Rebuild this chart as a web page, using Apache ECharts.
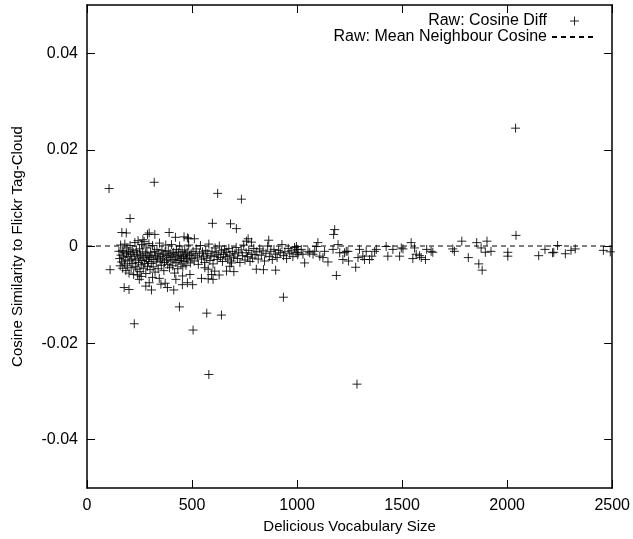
<!DOCTYPE html>
<html>
<head>
<meta charset="utf-8">
<script src="https://cdn.jsdelivr.net/npm/echarts@6/dist/echarts.min.js"></script>
<style>
html,body{margin:0;padding:0;background:#fff;}
#chart{width:633px;height:539px;}
</style>
</head>
<body>
<div id="chart"></div>
<script>
// ---- data ----
const seriesNames = ['Raw: Cosine Diff', 'Raw: Mean Neighbour Cosine'];
const xTicks = [0, 500, 1000, 1500, 2000, 2500];
const yTicks = [-0.04, -0.02, 0, 0.02, 0.04];

// outliers
const cosineDiffOutliers = [
[105,0.0120],[110,-0.0048],[320,0.0133],[205,0.0058],[622,0.0110],[735,0.0098],[597,0.0048],[683,0.0047],
[711,0.0037],[166,0.0029],[177,-0.0085],[225,-0.0160],[440,-0.0125],[505,-0.0173],[570,-0.0138],[640,-0.0142],
[580,-0.0265],[935,-0.0105],[1285,-0.0285],[2040,0.0245],[2042,0.0023],[1179,0.0035],[1174,0.0025],[1187,-0.0060]
];
// near-band points above/below the main cluster
const cosineDiffFringe = [
[296,0.0028],[288,0.0025],[391,0.0029],[462,0.0020],[478,0.0018],[421,0.0019],[483,0.0016],[511,0.0016],
[187,0.0028],[323,0.0025],[266,0.0014],
[249,-0.0068],[280,-0.0082],[296,-0.0075],[312,-0.0064],[352,-0.0078],[383,-0.0085],[423,-0.0068],[455,-0.0061],
[478,-0.0075],[545,-0.0066],[600,-0.0068],[561,-0.0044],[577,-0.0047],[593,-0.0058],[608,-0.0051],[490,-0.0058],
[664,-0.0051],[680,-0.0041],[688,-0.0034],[806,-0.0047],[898,-0.0049],[767,0.0016],[783,0.0009],[759,0.0011],
[865,0.0013],[200,-0.0089],[307,-0.0090],[413,-0.0090],[454,-0.0079],[503,-0.0079],[577,-0.0067],[629,-0.0059],
[699,-0.0052],[840,-0.0048],[241,-0.0059],[258,-0.0062],[344,-0.0066],[372,-0.0076]
];
// dense cluster, x 150..500
const cosineDiffDenseA = [
[152,-0.0010],[155,-0.0025],[158,-0.0040],[160,0.0003],[162,-0.0018],[165,-0.0032],[168,-0.0008],[170,-0.0045],
[172,-0.0022],[175,-0.0012],[178,-0.0036],[180,0.0005],[182,-0.0028],[185,-0.0050],[188,-0.0015],[190,-0.0003],
[192,-0.0040],[195,-0.0021],[198,-0.0010],[200,-0.0055],[203,-0.0030],[205,0.0002],[208,-0.0017],[210,-0.0044],
[213,-0.0026],[215,-0.0007],[218,-0.0035],[220,-0.0012],[222,-0.0058],[225,-0.0020],[228,0.0008],[230,-0.0042],
[232,-0.0028],[235,-0.0009],[238,-0.0047],[240,-0.0016],[243,0.0012],[245,-0.0033],[248,-0.0024],[250,-0.0005],
[252,-0.0052],[255,-0.0019],[258,-0.0038],[260,0.0004],[262,-0.0029],[265,-0.0011],[268,-0.0045],[270,-0.0022],
[272,0.0010],[275,-0.0035],[278,-0.0014],[280,-0.0056],[283,-0.0026],[285,-0.0003],[288,-0.0041],[290,-0.0018],
[293,-0.0031],[295,0.0006],[298,-0.0023],[300,-0.0048],
[303,-0.0012],[306,-0.0035],[309,-0.0020],[312,0.0002],[315,-0.0042],[318,-0.0027],[321,-0.0010],[324,-0.0053],
[327,-0.0018],[330,-0.0032],[333,-0.0006],[336,-0.0024],[339,-0.0046],[342,-0.0014],[345,0.0007],[348,-0.0030],
[351,-0.0021],[354,-0.0039],[357,-0.0008],[360,-0.0026],[363,-0.0016],[366,-0.0050],[369,-0.0033],[372,-0.0011],
[375,0.0003],[378,-0.0028],[381,-0.0019],[384,-0.0037],[387,-0.0009],[390,-0.0023],[393,-0.0044],[396,-0.0015],
[399,-0.0030],[402,0.0004],[405,-0.0020],[408,-0.0040],[411,-0.0012],[414,-0.0027],[417,-0.0055],[420,-0.0017],
[423,-0.0033],[426,-0.0006],[429,-0.0022],[432,-0.0046],[435,-0.0013],[438,-0.0029],[441,0.0001],[444,-0.0019],
[447,-0.0036],[450,-0.0025],[453,-0.0010],[456,-0.0042],[459,-0.0021],[462,-0.0031],[465,-0.0007],[468,-0.0016],
[471,-0.0039],[474,-0.0024],[477,-0.0012],[480,-0.0028],[484,0.0003],[488,-0.0019],[492,-0.0034],[496,-0.0015],
[500,-0.0025]
];
// cluster, x 500..1000
const cosineDiffDenseB = [
[505,-0.0010],[510,-0.0030],[515,-0.0018],[520,-0.0005],[525,-0.0022],[530,-0.0037],[535,-0.0014],[540,0.0002],
[545,-0.0026],[550,-0.0011],[555,-0.0020],[560,-0.0033],[565,-0.0008],[570,-0.0024],[575,-0.0015],[580,0.0005],
[585,-0.0029],[590,-0.0019],[595,-0.0010],[600,-0.0036],[605,-0.0021],[610,-0.0003],[615,-0.0013],[620,-0.0027],
[625,-0.0017],[630,0.0001],[635,-0.0023],[640,-0.0009],[645,-0.0031],[650,-0.0016],[655,-0.0006],[660,-0.0021],
[665,-0.0012],[670,-0.0026],[675,-0.0004],[680,-0.0018],[686,-0.0030],[692,-0.0010],[698,-0.0022],[704,-0.0015],
[710,-0.0002],[716,-0.0025],[722,-0.0012],[728,-0.0033],[734,-0.0007],[740,-0.0019],[746,0.0003],[752,-0.0028],
[758,-0.0013],[764,-0.0021],[770,-0.0008],[776,-0.0031],[782,-0.0016],[788,-0.0024],[794,-0.0004],[800,-0.0017],
[808,-0.0011],[815,-0.0026],[822,-0.0005],[830,-0.0018],[838,-0.0009],[845,-0.0030],[852,-0.0014],[860,0.0001],
[868,-0.0021],[875,-0.0010],[882,-0.0027],[890,-0.0006],[897,-0.0016],[905,-0.0023],[912,-0.0008],[920,-0.0013],
[928,0.0004],[935,-0.0019],[942,-0.0011],[950,-0.0025],[958,-0.0004],[965,-0.0015],[972,-0.0009],[980,-0.0021],
[988,-0.0002],[995,-0.0012]
];
// sparse tail, x 1000..2500
const cosineDiffTail = [
[997,0.0000],[1000,-0.0006],[1005,-0.0013],[1003,-0.0017],[1020,-0.0006],[1028,-0.0016],[1036,-0.0034],[1052,-0.0010],
[1060,-0.0013],[1076,-0.0016],[1084,-0.0010],[1099,0.0008],[1092,0.0000],[1108,-0.0020],[1123,-0.0023],[1131,-0.0010],
[1147,-0.0032],[1171,-0.0006],[1195,0.0004],[1203,-0.0013],[1218,-0.0027],[1226,-0.0013],[1234,-0.0010],[1242,-0.0010],
[1245,-0.0030],[1279,-0.0043],[1290,-0.0023],[1297,-0.0006],[1313,-0.0020],[1321,-0.0027],[1329,-0.0010],[1345,-0.0027],
[1356,-0.0020],[1369,-0.0010],[1377,-0.0006],[1424,0.0000],[1432,-0.0020],[1456,-0.0006],[1496,-0.0003],[1488,-0.0020],
[1504,-0.0005],[1543,0.0008],[1559,-0.0003],[1567,-0.0016],[1551,-0.0025],[1583,-0.0019],[1591,-0.0023],[1611,-0.0027],
[1617,-0.0006],[1638,-0.0010],[1646,-0.0012],[1741,-0.0005],[1749,-0.0010],[1784,0.0011],[1815,-0.0023],[1855,0.0008],
[1876,-0.0003],[1865,-0.0036],[1881,-0.0049],[1904,0.0011],[1896,-0.0012],[1923,-0.0010],[2003,-0.0012],[2003,-0.0020],
[2150,-0.0019],[2180,-0.0006],[2216,-0.0013],[2222,-0.0012],[2240,0.0002],[2277,-0.0015],[2304,-0.0008],[2324,-0.0005],
[2458,-0.0008],[2491,-0.0011]
];
const meanNeighbourX = [0, 2500];
const meanNeighbourY = [0.0001, 0.0001];

// ---- chart ----
const cosineDiffPoints = [].concat(cosineDiffOutliers, cosineDiffFringe, cosineDiffDenseA, cosineDiffDenseB, cosineDiffTail);
const meanLine = meanNeighbourX.map((x, i) => [x, meanNeighbourY[i]]);
const FONT = 'Liberation Sans, Arial, Helvetica, sans-serif';
const FS = 16;
const FS_NAME = 15;

const chart = echarts.init(document.getElementById('chart'), null, {renderer: 'canvas'});
const axisCommon = {
  axisLine: {show: true, onZero: false, lineStyle: {color: '#000', width: 1.5}},
  splitLine: {show: false},
};
chart.setOption({
  animation: false,
  backgroundColor: '#fff',
  grid: {left: 87, right: 20, top: 5, bottom: 49, containLabel: false},
  legend: {
    data: [
      {name: seriesNames[0], itemStyle: {color: '#000', borderColor: '#000', borderWidth: 1, opacity: 0.85}},
      {name: seriesNames[1], itemStyle: {color: 'rgba(0,0,0,0)', borderColor: 'rgba(0,0,0,0)', borderWidth: 0}}
    ],
    orient: 'vertical',
    align: 'right',
    right: 30,
    top: 8,
    padding: 5,
    itemGap: 0,
    itemWidth: 45,
    itemHeight: 9,
    textStyle: {fontFamily: FONT, fontSize: FS, color: '#000', lineHeight: 16},
    selectedMode: false
  },
  xAxis: [
    Object.assign({
      type: 'value', min: 0, max: 2500, interval: 500, position: 'bottom',
      name: 'Delicious Vocabulary Size', nameLocation: 'middle', nameGap: 31,
      nameTextStyle: {fontFamily: FONT, fontSize: FS_NAME, color: '#000'},
      axisTick: {show: true, inside: true, length: 8, lineStyle: {color: '#000'}},
      axisLabel: {fontFamily: FONT, fontSize: FS, color: '#000', margin: 10,
        customValues: xTicks, formatter: v => String(v)}
    }, axisCommon),
    Object.assign({
      type: 'value', min: 0, max: 2500, interval: 500, position: 'top',
      axisTick: {show: true, inside: true, length: 8, lineStyle: {color: '#000'}},
      axisLabel: {show: false}
    }, axisCommon)
  ],
  yAxis: [
    Object.assign({
      type: 'value', min: -0.05, max: 0.05, position: 'left',
      name: 'Cosine Similarity to Flickr Tag-Cloud', nameLocation: 'middle', nameGap: 62,
      nameTextStyle: {fontFamily: FONT, fontSize: FS_NAME, color: '#000'},
      axisTick: {show: true, inside: true, length: 8, customValues: yTicks, lineStyle: {color: '#000'}},
      axisLabel: {fontFamily: FONT, fontSize: FS, color: '#000', margin: 9,
        customValues: yTicks, formatter: v => String(v)}
    }, axisCommon),
    Object.assign({
      type: 'value', min: -0.05, max: 0.05, position: 'right',
      axisTick: {show: true, inside: true, length: 8, customValues: yTicks, lineStyle: {color: '#000'}},
      axisLabel: {show: false}
    }, axisCommon)
  ],
  series: [
    {
      name: seriesNames[0],
      type: 'scatter',
      xAxisIndex: 0, yAxisIndex: 0,
      symbol: 'path://M0,5L10,5M5,0L5,10',
      symbolSize: 9,
      itemStyle: {color: '#000', borderColor: '#000', borderWidth: 1, opacity: 0.85},
      emphasis: {disabled: true},
      data: cosineDiffPoints,
      z: 3
    },
    {
      name: seriesNames[1],
      type: 'line',
      xAxisIndex: 0, yAxisIndex: 0,
      symbol: 'none',
      lineStyle: {color: '#000', width: 1, type: [5, 4]},
      itemStyle: {color: 'rgba(0,0,0,0)'},
      emphasis: {disabled: true},
      data: meanLine,
      z: 2
    }
  ]
});
</script>
</body>
</html>
